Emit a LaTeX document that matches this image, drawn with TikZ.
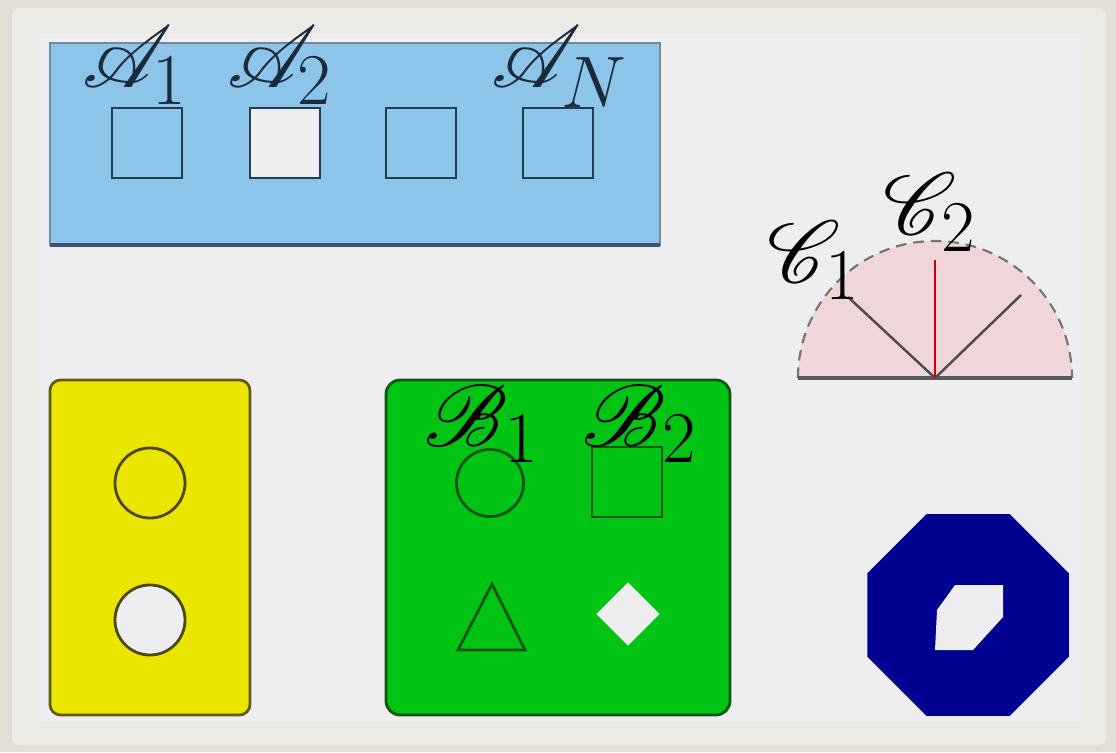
\documentclass[tikz,border=0pt]{standalone}
\usepackage{amsmath,amssymb,mathrsfs}
\usetikzlibrary{shapes.geometric}
\usepackage{xcolor}
\definecolor{frameout}{RGB}{226,222,212}
\definecolor{framein}{RGB}{236,234,228}
\definecolor{paper}{RGB}{238,238,240}
\definecolor{skyfill}{RGB}{140,196,234}
\definecolor{skyline}{RGB}{55,85,115}
\definecolor{boxline}{RGB}{35,60,85}
\definecolor{pinkfill}{RGB}{240,214,216}
\definecolor{yelfill}{RGB}{234,230,0}
\definecolor{yelline}{RGB}{95,90,20}
\definecolor{grnfill}{RGB}{0,196,20}
\definecolor{grnline}{RGB}{20,85,20}
\definecolor{navy}{RGB}{0,0,145}

\begin{document}
\begin{tikzpicture}[x=0.01cm, y=-0.01cm,
  every node/.style={font=\fontsize{28}{32}\selectfont},
  slot/.style={draw=boxline, line width=0.75pt, rectangle, minimum size=0.7cm, inner sep=0pt},
  hole/.style={draw=black!70, line width=0.8pt, circle, minimum size=0.7cm, inner sep=0pt}]
\useasboundingbox (0,0) rectangle (1116,752);
% frame
\fill[frameout] (0,0) rectangle (1116,752);
\fill[framein, rounded corners=2pt] (12,8) rectangle (1106,745);
\fill[paper] (40,34) rectangle (1080,722);
% top strip
\draw[skyline!70, fill=skyfill, line width=0.7pt] (50,43) rectangle (660,245);
\draw[skyline, line width=1.4pt] (50,245) -- (660,245);
\node[slot] (a1) at (147,143) {};
\node[slot, fill=paper] (a2) at (285,143) {};
\node[slot] (a3) at (421,143) {};
\node[slot] (aN) at (558,143) {};
\node[anchor=base, text=boxline!70!black] (la1) at (135,88) {$\mathscr{A}_1$};
\node[anchor=base, text=boxline!70!black] (la2) at (280,88) {$\mathscr{A}_2$};
\node[anchor=base, text=boxline!70!black] (laN) at (560,88) {$\mathscr{A}_N$};
% half disc
\coordinate (o) at (935,378);
\fill[pinkfill] (798,378) arc[start angle=180, end angle=360, radius=137] -- cycle;
\draw[black!55, densely dashed, line width=0.6pt] (798,378) arc[start angle=180, end angle=360, radius=137];
\draw[black!65, line width=1pt] (798,378) -- (1072,378);
\draw[black!70, line width=0.7pt] (o) -- ++(-87,-81);
\draw[black!70, line width=0.7pt] (o) -- ++(86,-83);
\draw[red!80!black, line width=0.7pt] (o) -- ++(0,-118);
\node[anchor=base] (lc1) at (814,283) {$\mathscr{C}_1$};
\node[anchor=base] (lc2) at (930,235) {$\mathscr{C}_2$};
% yellow plate
\draw[yelline, fill=yelfill, line width=0.8pt, rounded corners=3pt] (50,380) rectangle (250,715);
\node[hole, draw=yelline!80!black] (y1) at (150,483) {};
\node[hole, draw=yelline!80!black, fill=paper] (y2) at (150,620) {};
% green plate
\draw[grnline, fill=grnfill, line width=0.8pt, rounded corners=4pt] (386,380) rectangle (730,715);
\node[hole, draw=grnline, minimum size=0.67cm] (b1) at (490,483) {};
\node[slot, draw=grnline] (b2) at (627,482) {};
\draw[grnline, line width=0.8pt] (458,650) -- (492,584) -- (525,650) -- cycle;
\node[diamond, fill=paper, minimum size=0.64cm, inner sep=0pt] (b4) at (628,614) {};
\node[anchor=base] (lb1) at (482,446) {$\mathscr{B}_1$};
\node[anchor=base] (lb2) at (640,446) {$\mathscr{B}_2$};
% octagon with hole
\node[regular polygon, regular polygon sides=8, fill=navy, minimum size=2.18cm, inner sep=0pt] (oct) at (968,615) {};
\fill[paper] (937,610) -- (955,585) -- (1003,585) -- (1003,617) -- (973,650) -- (935,650) -- cycle;
\end{tikzpicture}
\end{document}
